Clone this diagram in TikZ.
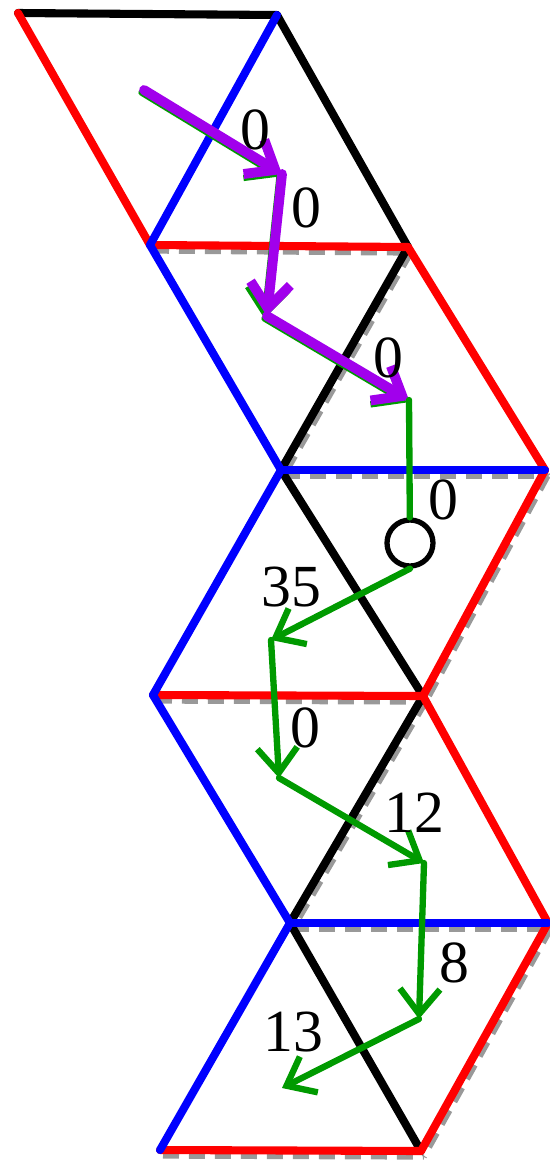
\documentclass[tikz,border=0pt]{standalone}
\usepackage{fontspec}
\setmainfont{Liberation Serif}
\usepackage{xcolor}
\usetikzlibrary{arrows.meta}

\definecolor{flowgreen}{HTML}{009A00}
\definecolor{flowpurple}{HTML}{A100EC}

\begin{document}
\begin{tikzpicture}[
    x=0.02cm, y=-0.02cm,
    edge/.style={line width=4.6pt, line cap=round, line join=round},
    shadow/.style={draw=black!40, line width=3pt, dash pattern=on 0.32cm off 0.2cm},
    flow/.style={draw=flowgreen, line width=3.6pt, line cap=round, line join=round, -{Straight Barb[length=5mm,width=8mm]}},
    hot/.style={draw=flowpurple, line width=5.6pt, line cap=round, line join=round, -{Straight Barb[length=5mm,width=8mm]}},
    weight/.style={font=\fontsize{34}{34}\selectfont, inner sep=0pt}
]
    \useasboundingbox (0,0) rectangle (550,1163);

    % Lattice corners
    \coordinate (a0) at (18,13);   \coordinate (b0) at (277,15);
    \coordinate (a1) at (150,245); \coordinate (b1) at (408,247);
    \coordinate (a2) at (281,470); \coordinate (b2) at (545,470);
    \coordinate (a3) at (153,695); \coordinate (b3) at (423,696);
    \coordinate (a4) at (290,923); \coordinate (b4) at (548,923);
    \coordinate (a5) at (160,1150); \coordinate (b5) at (421,1151);

    % Gray reference lattice
    \begin{scope}[transform canvas={xshift=0.06cm, yshift=-0.12cm}]
        \foreach \u/\v in {b0/b1, a1/b1, a1/a2, b1/a2, b1/b2, a2/b2, a2/b3, b2/b3,
                           a3/b3, a3/a4, b3/a4, b3/b4, a4/b4, b4/b5, a5/b5}
            \draw [shadow] (\u) -- (\v);
    \end{scope}

    % Coloured edges
    \foreach \u/\v in {a0/b0, b0/b1, b1/a2, a2/b3, b3/a4, a4/b5}
        \draw [edge, black] (\u) -- (\v);
    \foreach \u/\v in {a0/a1, a1/b1, b1/b2, b2/b3, a3/b3, b3/b4, b4/b5, a5/b5}
        \draw [edge, red] (\u) -- (\v);
    \foreach \u/\v in {b0/a1, a1/a2, a2/b2, a2/a3, a3/a4, a4/b4, a4/a5}
        \draw [edge, blue] (\u) -- (\v);

    % Path points
    \coordinate (p0) at (144,90);
    \coordinate (p1) at (282,174);
    \coordinate (p2) at (267,316);
    \coordinate (p3) at (409,400);
    \node (pivot) [circle, draw, line width=3pt, fill=white, minimum size=0.92cm, inner sep=0pt] at (410,543) {};
    \coordinate (p4) at (271,640);
    \coordinate (p5) at (279,778);
    \coordinate (p6) at (424,863);
    \coordinate (p7) at (419,1019);
    \coordinate (p8) at (282,1088);

    % Flows
    \begin{scope}[transform canvas={xshift=-0.05cm, yshift=-0.05cm}]
        \draw [flow] (p0) -- (p1);
        \draw [flow] (p1) -- (p2);
        \draw [flow] (p2) -- (p3);
    \end{scope}
    \draw [hot] (p0) -- (p1);
    \draw [hot] (p1) -- (p2);
    \draw [hot] (p2) -- (p3);
    \draw [flow, -] (p3) -- (pivot);
    \draw [flow] (pivot.south) -- (p4);
    \draw [flow] (p4) -- (p5);
    \draw [flow] (p5) -- (p6);
    \draw [flow] (p6) -- (p7);
    \draw [flow] (p7) -- (p8);

    % Weights
    \node (w1) [weight] at (255,130) {0};
    \node (w2) [weight] at (306,208) {0};
    \node (w3) [weight] at (388,358) {0};
    \node (w4) [weight] at (443,500) {0};
    \node (w5) [weight] at (291,587) {35};
    \node (w6) [weight] at (305,728) {0};
    \node (w7) [weight] at (414,813) {12};
    \node (w8) [weight] at (454,963) {8};
    \node (w9) [weight] at (293,1032) {13};
\end{tikzpicture}
\end{document}
